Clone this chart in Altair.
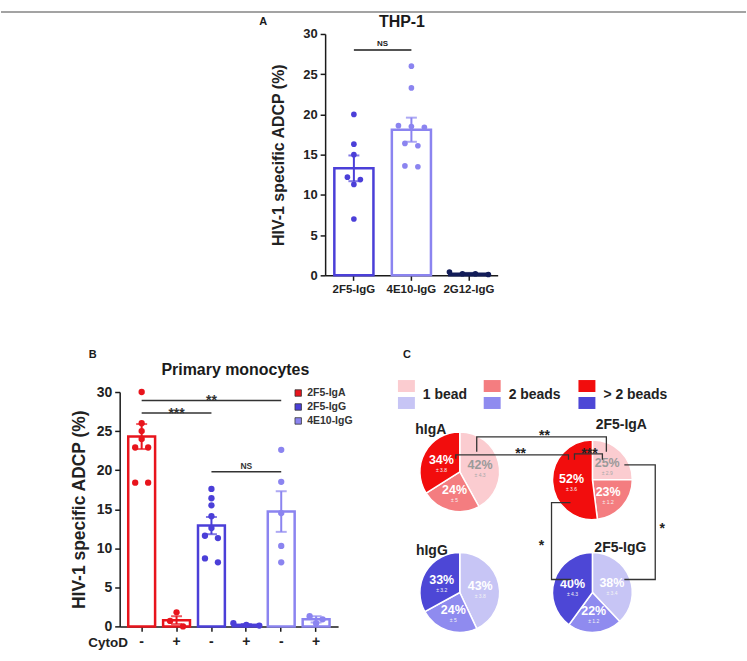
import altair as alt
import pandas as pd

FONT = "Liberation Sans"
INK = "#1a1a1a"

# ---------------- A: THP-1 ----------------
thp1_antibodies = ["2F5-IgG", "4E10-IgG", "2G12-IgG"]
thp1_2f5_igg = [20.0, 16.3, 15.0, 12.2, 11.9, 11.3, 7.0]
thp1_4e10_igg = [26.0, 23.3, 18.6, 18.5, 18.4, 16.4, 16.1, 13.6, 13.5]
thp1_2g12_igg = [0.2, 0.4, 0.2, 0.1]
thp1_mean = [13.3, 18.1, 0.2]
thp1_sem = [1.6, 1.5, 0.1]
thp1_test = ("2F5-IgG", "4E10-IgG", 28.0, "NS")

# ---------------- B: primary monocytes ----------------
mono_antibody = ["2F5-IgA", "2F5-IgA", "2F5-IgG", "2F5-IgG", "4E10-IgG", "4E10-IgG"]
mono_cytod = ["-", "+", "-", "+", "-", "+"]
mono_values = [
    [30.0, 26.0, 25.0, 24.0, 22.9, 22.9, 18.4, 18.4],
    [1.8, 0.7, 0.0],
    [17.6, 16.4, 15.5, 14.1, 12.6, 11.6, 11.3, 8.7, 8.2],
    [0.4, 0.2, 0.1],
    [22.6, 18.5, 14.5, 10.3, 8.2],
    [1.3, 0.9, 0.4],
]
mono_mean = [24.3, 0.8, 12.9, 0.2, 14.7, 0.9]
mono_sem = [1.6, 0.5, 1.1, 0.1, 2.6, 0.4]
mono_tests = [(0, 2, 27.3, "***"), (0, 4, 28.9, "**"), (2, 4, 19.8, "NS")]

# ---------------- C: beads per phagocytosing cell ----------------
bead_classes = ["1 bead", "2 beads", "> 2 beads"]
pie_names = ["hIgA", "2F5-IgA", "hIgG", "2F5-IgG"]
pie_isotype = ["IgA", "IgA", "IgG", "IgG"]
pie_pct = [[42, 24, 34], [25, 23, 52], [43, 24, 33], [38, 22, 40]]
pie_sd = [[4.3, 5, 3.8], [2.9, 1.2, 3.6], [3.8, 5, 3.2], [3.4, 1.2, 4.3]]
pie_tests = ["**", "**", "***", "*", "*"]

# colours
RED = "#e8141c"
BLUE = "#4b3fd8"
LILAC = "#8b84f0"
NAVY = "#121c58"
IGA_SHADES = ["#fbccd0", "#f47d80", "#f20d0d"]
IGG_SHADES = ["#c7c5f5", "#8f8bef", "#4d47d6"]


def swarm_offsets(values, px_per_unit, centre, near=6.5, gap=13.0):
    """Spread points that would overlap into centred rows (pixel offsets from band start)."""
    order = sorted(range(len(values)), key=lambda i: -values[i])
    rows = []
    for i in order:
        if rows and (values[rows[-1][0]] - values[i]) * px_per_unit < near:
            rows[-1].append(i)
        else:
            rows.append([i])
    out = [centre] * len(values)
    for row in rows:
        for k, i in enumerate(row):
            out[i] = centre + (k - (len(row) - 1) / 2) * gap
    return out


def axis(**kw):
    base = dict(domainColor=INK, domainWidth=1.5, tickColor=INK, tickWidth=1.5,
                tickSize=5, grid=False, labelFont=FONT, labelFontWeight="bold",
                labelColor="#222", titleFont=FONT, titleFontWeight="bold",
                titleColor="#222", labelAngle=0)
    base.update(kw)
    return alt.Axis(**base)


def label(text, x, y, size=11, **kw):
    """A free-standing bold text placed in view pixels."""
    return alt.Chart(pd.DataFrame({"t": [text]})).mark_text(
        fontSize=size, fontWeight="bold", font=FONT, color=kw.pop("color", INK),
        baseline="middle", **kw).encode(text="t:N", x=alt.value(x), y=alt.value(y))


B_LEFT, A_TOP, A_LEFT = 119, 33, 325
PAGE_W = 747
TOP_RULE_Y = 11          # grey rule across the top of the figure
TOP_PAD = TOP_RULE_Y - 0.8

# ======================= panel A =======================
A_W, A_H = 173, 242
A_PI, A_PO = 0.32, 0.16
a_step = A_W / (len(thp1_antibodies) - A_PI + 2 * A_PO)
a_band = a_step * (1 - A_PI)

a_rows = []
for ab, vals in zip(thp1_antibodies, [thp1_2f5_igg, thp1_4e10_igg, thp1_2g12_igg]):
    for v, o in zip(vals, swarm_offsets(vals, A_H / 30, a_band / 2)):
        a_rows.append({"antibody": ab, "v": v, "off": o})
a_dots = pd.DataFrame(a_rows)
a_bars = pd.DataFrame({
    "antibody": thp1_antibodies, "mean": thp1_mean,
    "lo": [m - s for m, s in zip(thp1_mean, thp1_sem)],
    "hi": [m + s for m, s in zip(thp1_mean, thp1_sem)],
})
a_test = pd.DataFrame([dict(zip(["a", "b", "y", "label"], thp1_test))])

a_cscale = alt.Scale(domain=thp1_antibodies, range=[BLUE, LILAC, NAVY])
a_xaxis = axis(title=None, labelFontSize=11.5, labelPadding=3)
a_yaxis = axis(title="HIV-1 specific ADCP (%)", values=[0, 5, 10, 15, 20, 25, 30],
               labelFontSize=13, titleFontSize=16, labelPadding=3, titlePadding=16)
a_xscale = alt.Scale(domain=thp1_antibodies, paddingInner=A_PI, paddingOuter=A_PO)
a_yscale = alt.Scale(domain=[0, 30], nice=False, zero=True)


def ax(field):
    return alt.X(field, type="nominal", scale=a_xscale, axis=a_xaxis)


def ay(field):
    return alt.Y(field, type="quantitative", scale=a_yscale, axis=a_yaxis)


a_layers = [
    alt.Chart(a_bars).mark_bar(fill="white", strokeWidth=2.5).encode(
        x=ax("antibody"), y=ay("mean"),
        stroke=alt.Stroke("antibody:N", scale=a_cscale, legend=None)),
    alt.Chart(a_bars).mark_rule(strokeWidth=2).encode(
        x=ax("antibody"), y=ay("lo"), y2="hi",
        stroke=alt.Stroke("antibody:N", scale=a_cscale, legend=None)),
    alt.Chart(a_bars).mark_tick(thickness=2, size=11).encode(
        x=ax("antibody"), y=ay("hi"),
        color=alt.Color("antibody:N", scale=a_cscale, legend=None)),
    alt.Chart(a_bars).mark_tick(thickness=2, size=11).encode(
        x=ax("antibody"), y=ay("lo"),
        color=alt.Color("antibody:N", scale=a_cscale, legend=None)),
    alt.Chart(a_dots).mark_circle(size=32, opacity=1).encode(
        x=ax("antibody"), xOffset=alt.XOffset("off:Q", scale=None), y=ay("v"),
        color=alt.Color("antibody:N", scale=a_cscale, legend=None)),
    alt.Chart(a_test).mark_rule(color=INK, strokeWidth=1.5).encode(
        x=ax("a"), x2="b", y=ay("y")),
    alt.Chart(a_test).mark_text(fontSize=8, fontWeight="bold", font=FONT, color=INK,
                                dx=a_step / 2, dy=-6, baseline="middle").encode(
        x=ax("a"), y=ay("y"), text="label:N"),
    label("A", -62, -12, 11),
    label("THP-1", 77, -12, 16),
    # thin grey rule along the top edge of the figure
    alt.Chart(pd.DataFrame({"t": [0]})).mark_rule(color="#858585", strokeWidth=1.6).encode(
        x=alt.value(-A_LEFT), x2=alt.value(PAGE_W - A_LEFT), y=alt.value(TOP_RULE_Y - A_TOP)),
]
chart_a = alt.layer(*a_layers).properties(width=A_W, height=A_H)

# ======================= panel B =======================
B_W, B_H = 219, 235
B_PI, B_PO = 0.23, 0.245
mono_conditions = [f"{a} {c}" for a, c in zip(mono_antibody, mono_cytod)]
b_step = B_W / (len(mono_conditions) - B_PI + 2 * B_PO)
b_band = b_step * (1 - B_PI)
b_ab_order = ["2F5-IgA", "2F5-IgG", "4E10-IgG"]
b_colors = [RED, BLUE, LILAC]
b_cscale = alt.Scale(domain=b_ab_order, range=b_colors)

b_rows = []
for cond, ab, vals in zip(mono_conditions, mono_antibody, mono_values):
    for v, o in zip(vals, swarm_offsets(vals, B_H / 30, b_band / 2)):
        b_rows.append({"cond": cond, "antibody": ab, "v": v, "off": o})
b_dots = pd.DataFrame(b_rows)
b_bars = pd.DataFrame({
    "cond": mono_conditions, "antibody": mono_antibody, "mean": mono_mean,
    "lo": [m - s for m, s in zip(mono_mean, mono_sem)],
    "hi": [m + s for m, s in zip(mono_mean, mono_sem)],
})
b_tests = pd.DataFrame([
    {"a": mono_conditions[i], "b": mono_conditions[j],
     "mid": mono_conditions[(i + j) // 2], "y": y, "label": lab}
    for i, j, y, lab in mono_tests
])

b_xaxis = axis(title="CytoD", labelExpr="split(datum.label, ' ')[1]", labelFontSize=14,
               labelPadding=3, titleFontSize=13.5, titleX=-32, titleY=16,
               titleAlign="left", titleBaseline="middle", titleAngle=0)
b_yaxis = axis(title="HIV-1 specific ADCP (%)", values=[0, 5, 10, 15, 20, 25, 30],
               labelFontSize=14, titleFontSize=17.5, labelPadding=3, titlePadding=8)
b_xscale = alt.Scale(domain=mono_conditions, paddingInner=B_PI, paddingOuter=B_PO)
b_yscale = alt.Scale(domain=[0, 30], nice=False, zero=True)


def bx(field):
    return alt.X(field, type="nominal", scale=b_xscale, axis=b_xaxis)


def by(field):
    return alt.Y(field, type="quantitative", scale=b_yscale, axis=b_yaxis)


# key of antibodies, drawn inside the plot's upper-right corner
b_key = []
for i, (ab, col) in enumerate(zip(b_ab_order, b_colors)):
    ky = 1 + 14 * i
    b_key.append(alt.Chart(pd.DataFrame({"t": [ab]})).mark_square(
        size=42, color=col, opacity=1, stroke="#333", strokeWidth=0.8).encode(
        x=alt.value(179), y=alt.value(ky)))
    b_key.append(alt.Chart(pd.DataFrame({"t": [ab]})).mark_text(
        align="left", baseline="middle", font=FONT, fontSize=10.5, fontWeight="bold",
        color="#333").encode(text="t:N", x=alt.value(188), y=alt.value(ky)))

b_layers = [
    alt.Chart(b_bars).mark_bar(fill="white", strokeWidth=2.5).encode(
        x=bx("cond"), y=by("mean"),
        stroke=alt.Stroke("antibody:N", scale=b_cscale, legend=None)),
    alt.Chart(b_bars).mark_rule(strokeWidth=2).encode(
        x=bx("cond"), y=by("lo"), y2="hi",
        stroke=alt.Stroke("antibody:N", scale=b_cscale, legend=None)),
    alt.Chart(b_bars).mark_tick(thickness=2, size=11).encode(
        x=bx("cond"), y=by("hi"),
        color=alt.Color("antibody:N", scale=b_cscale, legend=None)),
    alt.Chart(b_bars).mark_tick(thickness=2, size=11).encode(
        x=bx("cond"), y=by("lo"),
        color=alt.Color("antibody:N", scale=b_cscale, legend=None)),
    alt.Chart(b_dots).mark_circle(size=40, opacity=1).encode(
        x=bx("cond"), xOffset=alt.XOffset("off:Q", scale=None), y=by("v"),
        color=alt.Color("antibody:N", scale=b_cscale, legend=None)),
    alt.Chart(b_tests).mark_rule(color="#333", strokeWidth=1.5).encode(
        x=bx("a"), x2="b", y=by("y")),
    alt.Chart(b_tests).transform_filter(alt.datum.label != "NS").mark_text(
        fontSize=14, fontWeight="bold", font=FONT, color="#333", dy=4.5,
        baseline="alphabetic").encode(x=bx("mid"), y=by("y"), text="label:N"),
    alt.Chart(b_tests).transform_filter(alt.datum.label == "NS").mark_text(
        fontSize=8.5, fontWeight="bold", font=FONT, color="#333", dy=-6,
        baseline="middle").encode(x=bx("mid"), y=by("y"), text="label:N"),
    label("B", -27, -37, 11),
    label("Primary monocytes", 116, -22, 16),
] + b_key
chart_b = alt.layer(*b_layers).properties(width=B_W, height=B_H)

# ======================= panel C =======================
COL_GAP = -13
C_SHIFT = 390 - (B_LEFT + B_W + COL_GAP)   # blank strip left of panel C's drawing area
C_W, C_H = 300, 250
R = 40
# panel layout, in pixels from the drawing area's top-left corner
pie_centres = {"hIgA": (70, 80), "2F5-IgA": (203, 88), "hIgG": (70, 201), "2F5-IgG": (203, 201)}
pie_title_at = {"hIgA": (41, 38), "2F5-IgA": (232, 33), "hIgG": (42, 159), "2F5-IgG": (231, 156)}
swatch_left = [8, 94, 189]
swatch_rows = {"IgA": (-12, 0), "IgG": (5, 17)}
bracket_paths = [
    [(87, 60), (87, 45), (217, 45), (217, 60)],
    [(66, 67), (66, 63), (179, 63), (179, 68)],
    [(185, 68), (185, 62), (213, 62), (213, 68)],
    [(235, 73), (266, 73), (266, 188), (235, 188)],
    [(181, 111), (162, 111), (162, 188), (182, 188)],
]
star_at = [(155, 40), (131, 58), (200, 58), (273, 133), (152, 150)]

keys = [f"{iso}|{b}" for iso in ["IgA", "IgG"] for b in bead_classes]
c_cscale = alt.Scale(domain=keys, range=IGA_SHADES + IGG_SHADES)
cx_scale = alt.Scale(domain=[-C_SHIFT, C_W], nice=False, zero=False)
cy_scale = alt.Scale(domain=[0, C_H], nice=False, zero=False, reverse=True)
theta_scale = alt.Scale(domain=[0, 100], nice=False, zero=False)

slices = []
for name, iso, pcts, sds in zip(pie_names, pie_isotype, pie_pct, pie_sd):
    cx0, cy0 = pie_centres[name]
    start = 0
    for k, (b, p, s) in enumerate(zip(bead_classes, pcts, sds)):
        slices.append({"pie": name, "key": f"{iso}|{b}", "k": k, "pct": p,
                       "start": start, "end": start + p, "mid": start + p / 2,
                       "cx": cx0, "cy": cy0, "plab": f"{p}%", "slab": f"± {s:g}"})
        start += p
c_slices = pd.DataFrame(slices)
c_titles = pd.DataFrame([{"t": n, "x": pie_title_at[n][0], "y": pie_title_at[n][1]} for n in pie_names])
c_swatch = pd.DataFrame([
    {"key": f"{iso}|{b}", "x0": swatch_left[i], "x1": swatch_left[i] + 17,
     "y0": swatch_rows[iso][0], "y1": swatch_rows[iso][1]}
    for i, b in enumerate(bead_classes) for iso in ["IgA", "IgG"]
])
c_swatch_lab = pd.DataFrame([{"t": b, "x": swatch_left[i] + 25, "y": 3}
                             for i, b in enumerate(bead_classes)])
c_brackets = pd.DataFrame([{"id": i, "n": n, "x": p[0], "y": p[1]}
                           for i, path in enumerate(bracket_paths) for n, p in enumerate(path)])
c_stars = pd.DataFrame([{"t": t, "x": p[0], "y": p[1]} for t, p in zip(pie_tests, star_at)])


def cx(field):
    return alt.X(field, type="quantitative", scale=cx_scale, axis=None)


def cy(field):
    return alt.Y(field, type="quantitative", scale=cy_scale, axis=None)


light = (alt.datum.key == "IgA|1 bead")
c_layers = [
    alt.Chart(c_swatch).mark_rect().encode(
        x=cx("x0"), x2="x1", y=cy("y0"), y2="y1",
        color=alt.Color("key:N", scale=c_cscale, legend=None)),
    alt.Chart(c_swatch_lab).mark_text(align="left", baseline="middle", font=FONT,
                                      fontSize=14, fontWeight="bold", color="#222").encode(
        x=cx("x"), y=cy("y"), text="t:N"),
    alt.Chart(c_slices).mark_arc(outerRadius=R, stroke="white", strokeWidth=1.5).encode(
        x=cx("cx"), y=cy("cy"),
        theta=alt.Theta("start:Q", scale=theta_scale), theta2="end:Q",
        color=alt.Color("key:N", scale=c_cscale, legend=None)),
    alt.Chart(c_slices).mark_text(radius=21, font=FONT, fontSize=12.5, fontWeight="bold",
                                  baseline="middle", dy=-2).encode(
        x=cx("cx"), y=cy("cy"), theta=alt.Theta("mid:Q", scale=theta_scale),
        text="plab:N",
        color=alt.condition(light, alt.value("#9a9a9a"), alt.value("white"))),
    alt.Chart(c_slices).mark_text(radius=21, font=FONT, fontSize=5, baseline="middle",
                                  dy=8).encode(
        x=cx("cx"), y=cy("cy"), theta=alt.Theta("mid:Q", scale=theta_scale),
        text="slab:N",
        color=alt.condition(light, alt.value("#a8a8a8"), alt.value("#f4f4f4"))),
    alt.Chart(c_titles).mark_text(font=FONT, fontSize=14, fontWeight="bold",
                                  baseline="middle", color="#222").encode(
        x=cx("x"), y=cy("y"), text="t:N"),
    alt.Chart(c_brackets).mark_line(color="#333", strokeWidth=1.3).encode(
        x=cx("x"), y=cy("y"), detail="id:N", order="n:Q"),
    alt.Chart(c_stars).mark_text(font=FONT, fontSize=14, fontWeight="bold",
                                 baseline="alphabetic", dy=8, color="#222").encode(
        x=cx("x"), y=cy("y"), text="t:N"),
    alt.Chart(pd.DataFrame({"t": ["C"], "x": [17], "y": [-37]})).mark_text(
        fontSize=11, fontWeight="bold", font=FONT, color=INK, baseline="middle").encode(
        x=cx("x"), y=cy("y"), text="t:N"),
]
chart_c = alt.layer(*c_layers).properties(width=C_W + C_SHIFT, height=C_H)

# ======================= layout =======================
# empty cell that keeps panel A to the right of panel B's column
blank = alt.Chart(pd.DataFrame({"t": [""]})).mark_text(opacity=0).encode(
    text="t:N", x=alt.value(0), y=alt.value(0)
).properties(width=A_LEFT - B_LEFT, height=A_H)

chart = alt.concat(
    blank, chart_a, chart_b, chart_c,
    columns=2, bounds="flush", align="none",
    spacing={"row": 392 - A_TOP - A_H, "column": COL_GAP},
).resolve_scale(
    color="independent", stroke="independent"
).properties(
    padding={"left": 0, "top": TOP_PAD, "right": 0, "bottom": 0}
).configure(
    font=FONT, background="white", view=alt.ViewConfig(stroke=None)
)

chart.save("out.html", embed_options={"renderer": "svg", "actions": False})
